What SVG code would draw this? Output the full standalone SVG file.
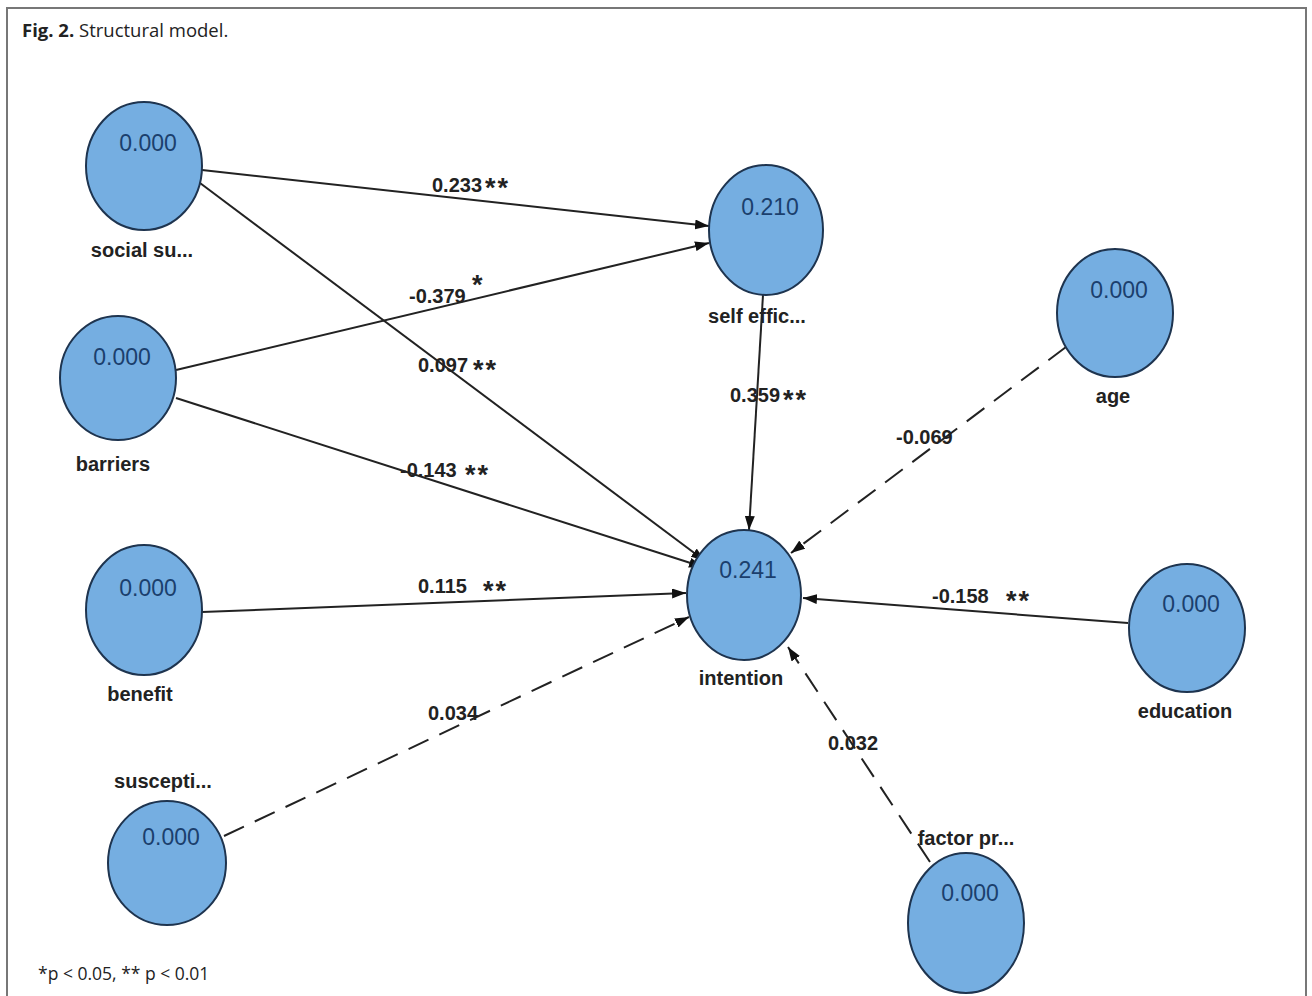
<svg xmlns="http://www.w3.org/2000/svg" width="1312" height="996" viewBox="0 0 1312 996">
<defs>
<marker id="arr" viewBox="0 0 14 10" refX="14" refY="5" markerWidth="14" markerHeight="10" markerUnits="userSpaceOnUse" orient="auto">
<path d="M0,0 L14,5 L0,10 Z" fill="#111"/>
</marker>
<style>
.frame{fill:none;stroke:#777;stroke-width:2}
.node ellipse{fill:#75aee1;stroke:#1e344f;stroke-width:2}
.val{font-family:"Liberation Sans",Arial,sans-serif;font-size:23px;fill:#1b3f6d;text-anchor:middle}
.lbl{font-family:"Liberation Sans",Arial,sans-serif;font-size:20px;font-weight:bold;fill:#222;text-anchor:middle}
.edge{stroke:#222;stroke-width:2;fill:none;marker-end:url(#arr)}
.dash{stroke-dasharray:22 12}
.el{font-family:"Liberation Sans",Arial,sans-serif;font-size:20px;font-weight:bold;fill:#222}
.st{font-family:"Liberation Sans",Arial,sans-serif;font-size:27px;font-weight:bold;fill:#222;letter-spacing:2px}
.title{font-family:"Open Sans","Noto Sans",sans-serif;font-size:18.5px;fill:#222}
.foot{font-family:"Open Sans","Noto Sans",sans-serif;font-size:17.5px;fill:#222}
</style>
</defs>
<rect width="1312" height="996" fill="#fff"/>
<path class="frame" d="M7,1000 L7,8 L1306,8 L1306,1000"/>
<text class="title" x="22" y="37"><tspan font-weight="bold">Fig. 2.</tspan> Structural model.</text>
<text class="foot" x="38" y="980">*p &lt; 0.05, ** p &lt; 0.01</text>

<g id="connectors">
<line class="edge" x1="202" y1="170" x2="709" y2="226"/>
<line class="edge" x1="176" y1="370" x2="709" y2="243"/>
<line class="edge" x1="192" y1="177" x2="705" y2="561"/>
<line class="edge" x1="176" y1="398" x2="703" y2="567"/>
<line class="edge" x1="202" y1="612" x2="686" y2="593"/>
<line class="edge dash" x1="224" y1="836" x2="689" y2="617"/>
<line class="edge" x1="763" y1="295" x2="749" y2="530"/>
<line class="edge dash" x1="1066" y1="347" x2="791" y2="553"/>
<line class="edge" x1="1128" y1="623" x2="803" y2="598"/>
<line class="edge dash" x1="930" y1="862" x2="788" y2="647"/>
<text class="el" x="432" y="192">0.233</text><text class="st" x="485" y="197">**</text>
<text class="el" x="409" y="303">-0.379</text><text class="st" x="472" y="294">*</text>
<text class="el" x="418" y="372">0.097</text><text class="st" x="473" y="379">**</text>
<text class="el" x="400" y="477">-0.143</text><text class="st" x="465" y="484">**</text>
<text class="el" x="418" y="593">0.115</text><text class="st" x="483" y="600">**</text>
<text class="el" x="428" y="720">0.034</text>
<text class="el" x="730" y="402">0.359</text><text class="st" x="783" y="409">**</text>
<text class="el" x="896" y="444">-0.069</text>
<text class="el" x="932" y="603">-0.158</text><text class="st" x="1006" y="610">**</text>
<text class="el" x="828" y="750">0.032</text>
</g>

<g id="social" class="node"><ellipse cx="144" cy="166" rx="58" ry="64"/><text class="val" x="148" y="151">0.000</text><text class="lbl" x="142" y="257">social su...</text></g>
<g id="barriers" class="node"><ellipse cx="118" cy="378" rx="58" ry="62"/><text class="val" x="122" y="365">0.000</text><text class="lbl" x="113" y="471">barriers</text></g>
<g id="benefit" class="node"><ellipse cx="144" cy="610" rx="58" ry="65"/><text class="val" x="148" y="596">0.000</text><text class="lbl" x="140" y="701">benefit</text></g>
<g id="suscepti" class="node"><ellipse cx="167" cy="863" rx="59" ry="62"/><text class="val" x="171" y="845">0.000</text><text class="lbl" x="163" y="788">suscepti...</text></g>
<g id="selfefficacy" class="node"><ellipse cx="766" cy="230" rx="57" ry="65"/><text class="val" x="770" y="215">0.210</text><text class="lbl" x="757" y="323">self effic...</text></g>
<g id="intention" class="node"><ellipse cx="744" cy="595" rx="57" ry="65"/><text class="val" x="748" y="578">0.241</text><text class="lbl" x="741" y="685">intention</text></g>
<g id="age" class="node"><ellipse cx="1115" cy="313" rx="58" ry="64"/><text class="val" x="1119" y="298">0.000</text><text class="lbl" x="1113" y="403">age</text></g>
<g id="education" class="node"><ellipse cx="1187" cy="628" rx="58" ry="64"/><text class="val" x="1191" y="612">0.000</text><text class="lbl" x="1185" y="718">education</text></g>
<g id="factorpr" class="node"><ellipse cx="966" cy="923" rx="58" ry="70"/><text class="val" x="970" y="901">0.000</text><text class="lbl" x="966" y="845">factor pr...</text></g>
</svg>
